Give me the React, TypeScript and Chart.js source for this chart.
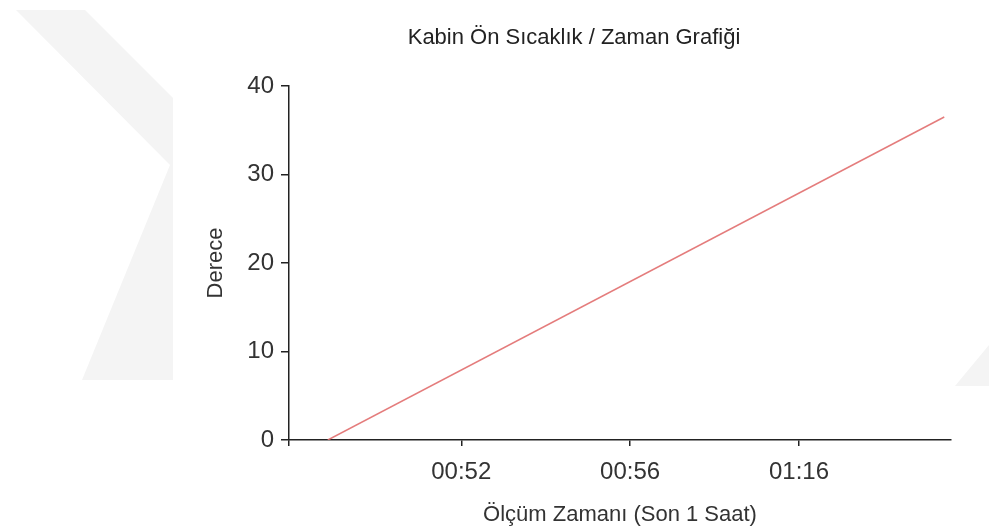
import React, { useEffect, useRef } from "react";
import { Chart, registerables } from "chart.js";

Chart.register(...registerables);

// ---- data ----
const chartTitle = "Kabin Ön Sıcaklık / Zaman Grafiği";
const yAxisTitle = "Derece";
const xAxisTitle = "Ölçüm Zamanı (Son 1 Saat)";
const timeLabels = ["00:52", "00:56", "01:16"];
const timeTickPositions = [1, 2, 3];
const sampleTimes = [0.21, 3.86];
const temperatures = [0, 36.5];
const yTicks = [0, 10, 20, 30, 40];

const FONT = "'Liberation Sans', Arial, sans-serif";

const watermarkPlugin = {
  id: "watermark",
  beforeDraw(chart: any) {
    const ctx = chart.ctx;
    ctx.save();
    ctx.fillStyle = "#f4f4f4";
    ctx.beginPath();
    ctx.moveTo(16, 10);
    ctx.lineTo(85, 10);
    ctx.lineTo(173, 98);
    ctx.lineTo(173, 380);
    ctx.lineTo(82, 380);
    ctx.lineTo(170, 165);
    ctx.closePath();
    ctx.fill();
    ctx.beginPath();
    ctx.moveTo(955, 386);
    ctx.lineTo(989, 386);
    ctx.lineTo(989, 345);
    ctx.closePath();
    ctx.fill();
    ctx.restore();
  },
};

const titlePlugin = {
  id: "customTitle",
  afterDraw(chart: any) {
    const ctx = chart.ctx;
    ctx.save();
    ctx.font = `22px ${FONT}`;
    ctx.fillStyle = "#222";
    ctx.textAlign = "center";
    ctx.textBaseline = "alphabetic";
    ctx.fillText(chartTitle, 574, 44);
    ctx.restore();
  },
};

export default function App() {
  const ref = useRef<HTMLCanvasElement>(null);
  useEffect(() => {
    if (!ref.current) return;
    const points = sampleTimes.map((t, i) => ({ x: t, y: temperatures[i] }));
    const xMin = -0.02;
    const chart = new Chart(ref.current, {
      type: "scatter",
      data: {
        datasets: [
          {
            data: points,
            showLine: true,
            borderColor: "rgba(225,110,110,0.9)",
            borderWidth: 1.5,
            pointRadius: 0,
            fill: false,
          },
        ],
      },
      options: {
        animation: false,
        responsive: true,
        maintainAspectRatio: false,
        layout: { padding: { left: 199, right: 38, top: 86, bottom: 0 } },
        plugins: { legend: { display: false }, tooltip: { enabled: false }, title: { display: false } },
        scales: {
          x: {
            type: "linear",
            min: xMin,
            max: 3.9,
            afterBuildTicks: (scale: any) => {
              scale.ticks = [{ value: xMin }, ...timeTickPositions.map((v) => ({ value: v }))];
            },
            afterFit: (scale: any) => {
              scale.height = 91;
            },
            ticks: {
              autoSkip: false,
              maxRotation: 0,
              padding: 12,
              color: "#333",
              font: { family: FONT, size: 24 },
              callback: (v: any) => {
                const i = timeTickPositions.indexOf(v);
                return i >= 0 ? timeLabels[i] : "";
              },
            },
            grid: { drawOnChartArea: false, tickLength: 6, color: "#222", lineWidth: 1.5 },
            border: { display: true, color: "#222", width: 1.5 },
            title: {
              display: true,
              text: xAxisTitle,
              color: "#333",
              font: { family: FONT, size: 22 },
              padding: { top: 4, bottom: 3 },
            },
          },
          y: {
            type: "linear",
            min: 0,
            max: 40,
            afterBuildTicks: (scale: any) => {
              scale.ticks = yTicks.map((v) => ({ value: v }));
            },
            afterFit: (scale: any) => {
              scale.width = 90;
            },
            ticks: {
              padding: 7,
              color: "#333",
              font: { family: FONT, size: 24 },
            },
            grid: { drawOnChartArea: false, tickLength: 8, color: "#222", lineWidth: 1.5 },
            border: { display: true, color: "#222", width: 1.5 },
            title: {
              display: true,
              text: yAxisTitle,
              color: "#333",
              font: { family: FONT, size: 22 },
              padding: { top: 4, bottom: 4 },
            },
          },
        },
      },
      plugins: [watermarkPlugin, titlePlugin],
    });
    return () => chart.destroy();
  }, []);
  return (
    <div style={{ position: "fixed", left: 0, top: 0, width: 989, height: 531, background: "#fff" }}>
      <canvas ref={ref} />
    </div>
  );
}
